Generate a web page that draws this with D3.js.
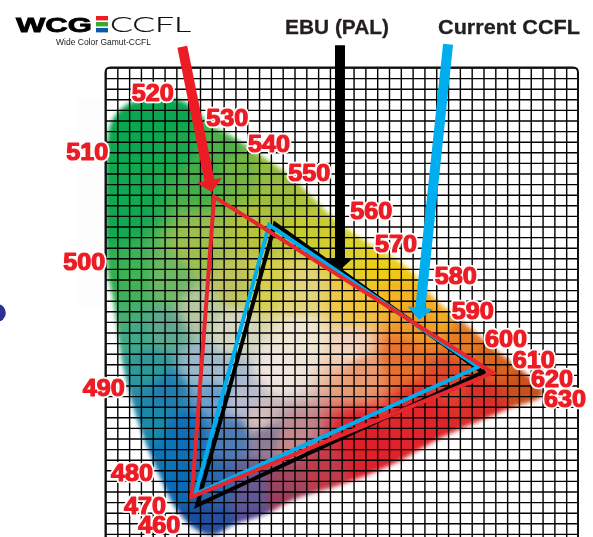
<!DOCTYPE html>
<html>
<head>
<meta charset="utf-8">
<script src="https://cdn.jsdelivr.net/npm/d3@7"></script>
<style>
  html, body { margin: 0; padding: 0; background: #fff; overflow: hidden; }
  #chart { position: relative; width: 593px; height: 537px; }
  canvas, svg { position: absolute; left: 0; top: 0; }
  text { font-family: "Liberation Sans", Arial, sans-serif; }
</style>
</head>
<body>
<div id="chart"></div>
<script>
// Outline of the colour area, chromaticity x / y
var locus = [
  [.001,.725],[.008,.791],[.020,.814],[.038,.831],[.067,.841],[.101,.842],[.130,.837],[.153,.820],
  [.177,.793],[.219,.767],[.270,.729],[.317,.692],[.338,.669],[.390,.612],[.436,.575],[.509,.524],
  [.560,.461],[.610,.416],[.661,.367],[.712,.322],[.741,.284],[.678,.254],[.571,.203],[.487,.152],
  [.402,.114],[.317,.084],[.273,.058],[.216,.037],[.182,.018],[.155,.027],[.121,.065],[.087,.141],
  [.058,.222],[.030,.335],[.013,.461],[.003,.524]
];

// Colour samples inside the area: x, y, colour
var swatches = [
  [.075,.782,"#0aa650"],[.033,.650,"#10a850"],[.118,.754,"#18a94e"],[.168,.697,"#44ae48"],
  [.228,.707,"#74b544"],[.295,.659,"#9dbd3e"],[.041,.499,"#3fb356"],[.028,.424,"#45ae6e"],
  [.109,.499,"#6db865"],[.160,.556,"#9ebf4f"],[.262,.593,"#b7c33a"],[.346,.603,"#c8cc30"],
  [.406,.565,"#dcd22a"],[.473,.527,"#eccf1a"],[.216,.493,"#bfc35c"],[.273,.493,"#d8cf4a"],
  [.329,.480,"#e2d57a"],[.414,.461,"#f0c640"],[.499,.480,"#f5b41f"],[.329,.386,"#efe8d4"],
  [.414,.367,"#f2d5c0"],[.295,.329,"#f3e6df"],[.211,.405,"#d5d8c0"],[.160,.442,"#b8c8a0"],
  [.101,.405,"#5fa88f"],[.532,.424,"#ee9a2a"],[.617,.386,"#e57a25"],[.668,.348,"#d9621f"],
  [.719,.301,"#c9501c"],[.499,.348,"#e8702e"],[.431,.329,"#ea9a70"],[.583,.310,"#e0452a"],
  [.532,.254,"#e0262a"],[.431,.197,"#dd1f2a"],[.634,.273,"#d9302a"],[.363,.141,"#c23a48"],
  [.312,.122,"#a8475f"],[.312,.197,"#c58a8e"],[.262,.235,"#d8c0be"],[.228,.273,"#b8bcd0"],
  [.194,.310,"#a9bdd0"],[.160,.335,"#9ab8cc"],[.189,.292,"#5f9bd0"],[.104,.292,"#1f7db0"],
  [.075,.335,"#2c9a9b"],[.047,.399,"#3fa98a"],[.131,.210,"#0e6fb8"],[.131,.116,"#0b6ab6"],
  [.189,.114,"#2a69b0"],[.245,.114,"#6a5a90"],[.301,.114,"#96475f"],[.189,.039,"#264f9e"],
  [.245,.084,"#5c5a98"],[.273,.208,"#8a7a98"],[.216,.208,"#4c7bb5"],[.075,.235,"#1a8aa8"],
  // along the edges
  [.005,.620,"#12a751"],[.012,.500,"#2fb04f"],[.100,.810,"#0aa650"],[.200,.760,"#4fb04a"],
  [.280,.710,"#93bb40"],[.340,.650,"#aec23a"],[.400,.585,"#d6d02c"],[.500,.510,"#f0c818"],
  [.560,.445,"#f5ae20"],[.650,.360,"#d9661f"],[.720,.295,"#c9501c"],[.450,.155,"#e0202a"],
  [.550,.215,"#e3222a"],[.640,.250,"#d92c28"],[.300,.085,"#a03a5c"],[.250,.055,"#5a4a90"],
  [.150,.040,"#1a4fa0"],[.095,.150,"#0e74b4"]
];

// Gamut triangles
var ebuPal = [[.287,.605],[.639,.325],[.155,.074]];
var currentCcfl = [[.277,.603],[.631,.335],[.152,.095]];
var wcgCcfl = [[.184,.656],[.656,.324],[.146,.090]];

// Wavelength labels
var wavelengths = ["520","530","540","550","510","500","560","570","580","590","600","610","620","630","490","480","470","460"];
var waveX = [.080,.206,.277,.345,-.031,-.036,.450,.492,.593,.622,.678,.725,.756,.778,-.003,.045,.067,.091];
var waveY = [.852,.806,.756,.701,.741,.533,.629,.567,.507,.441,.388,.348,.312,.275,.295,.135,.073,.037];

var xTicks = d3.range(0, 41).map(function(i) { return i * 0.02; });
var yTicks = d3.range(0, 46).map(function(i) { return i * 0.02; });

// Arrows: start, tip
var arrows = [
  { color: "#ed1c24", from: [.130,.939], to: [.180,.665] },
  { color: "#000000", from: [.397,.942], to: [.397,.518] },
  { color: "#00aeef", from: [.580,.944], to: [.531,.424] }
];

var svgWidth = 593, svgHeight = 537;

var x = d3.scaleLinear().domain([0, 0.8]).range([105.5, 578]);
var y = d3.scaleLinear().domain([0, 0.9]).range([544.5, 67.5]);

var chart = d3.select("#chart");

// Colour area goes on a canvas under the svg
var canvas = chart.append("canvas").attr("width", svgWidth).attr("height", svgHeight);
var ctx = canvas.node().getContext("2d");

var pts = swatches.map(function(s) {
  var c = d3.rgb(s[2]);
  return { px: x(s[0]), py: y(s[1]), r: c.r, g: c.g, b: c.b };
});
var img = ctx.createImageData(svgWidth, svgHeight);
for (var j = 0; j < svgHeight; j++) {
  for (var i = 0; i < svgWidth; i++) {
    var sw = 0, sr = 0, sg = 0, sb = 0;
    pts.forEach(function(p) {
      var dx = p.px - i, dy = p.py - j;
      var w = 1 / Math.pow(dx * dx + dy * dy + 80, 2.5);
      sw += w; sr += p.r * w; sg += p.g * w; sb += p.b * w;
    });
    var k = (j * svgWidth + i) * 4;
    img.data[k] = sr / sw; img.data[k + 1] = sg / sw; img.data[k + 2] = sb / sw; img.data[k + 3] = 255;
  }
}
ctx.putImageData(img, 0, 0);

var locusLine = d3.line()
  .x(function(d) { return x(d[0]); })
  .y(function(d) { return y(d[1]); })
  .curve(d3.curveCatmullRomClosed.alpha(0.5));

// Keep only what falls inside the soft-edged outline
ctx.globalCompositeOperation = "destination-in";
ctx.filter = "blur(2px)";
ctx.fillStyle = "#000";
ctx.fill(new Path2D(locusLine(locus)));
ctx.filter = "none";
ctx.globalCompositeOperation = "source-over";

var svg = chart.append("svg").attr("width", svgWidth).attr("height", svgHeight);

// Grid is clipped to the frame so the top corners stay round
var r = 5;
svg.append("clipPath").attr("id", "frame-clip").append("rect")
  .attr("x", x(0)).attr("y", y(0.9))
  .attr("width", x(0.8) - x(0)).attr("height", y(0) - y(0.9) + 10)
  .attr("rx", r);

// Faint ghosting left of the grid
svg.append("rect")
  .attr("x", x(-.05)).attr("y", y(.84))
  .attr("width", x(0) - x(-.05)).attr("height", y(.45) - y(.84))
  .attr("fill", "#fcfdfc");

// Navy blob cut by the page edge
svg.append("circle")
  .attr("cx", x(-.184)).attr("cy", y(.437)).attr("r", 9)
  .attr("fill", "#2e3192");

// Grid
var grid = svg.append("g").attr("clip-path", "url(#frame-clip)");
grid.append("g")
  .attr("transform", "translate(0," + y(0.9) + ")")
  .call(d3.axisBottom(x).tickValues(xTicks).tickSize(y(0) - y(0.9)).tickFormat(""));
grid.append("g")
  .attr("transform", "translate(" + x(0) + ",0)")
  .call(d3.axisRight(y).tickValues(yTicks).tickSize(x(0.8) - x(0)).tickFormat(""));
svg.selectAll(".domain").remove();
svg.selectAll(".tick line").attr("stroke", "#000").attr("stroke-width", 1.4);

// Frame with the rounded top corners
svg.append("path")
  .attr("d", "M" + x(0) + "," + y(0) + "V" + (y(0.9) + r) + "Q" + x(0) + "," + y(0.9) + " " + (x(0) + r) + "," + y(0.9)
    + "H" + (x(0.8) - r) + "Q" + x(0.8) + "," + y(0.9) + " " + x(0.8) + "," + (y(0.9) + r) + "V" + y(0))
  .attr("fill", "none").attr("stroke", "#111").attr("stroke-width", 2);

// Triangles, black first and red on top
var triLine = d3.line()
  .x(function(d) { return x(d[0]); })
  .y(function(d) { return y(d[1]); })
  .curve(d3.curveLinearClosed);

[[ebuPal, "#000000"], [currentCcfl, "#00aeef"], [wcgCcfl, "#e8262e"]].forEach(function(t) {
  svg.append("path")
    .attr("d", triLine(t[0]))
    .attr("fill", "none")
    .attr("stroke", t[1])
    .attr("stroke-width", 4)
    .attr("stroke-linejoin", "miter");
});

// Arrows
var shaft = 10, headLen = 12, headWidth = 26;
arrows.forEach(function(a) {
  var x0 = x(a.from[0]), y0 = y(a.from[1]), x1 = x(a.to[0]), y1 = y(a.to[1]);
  var len = Math.hypot(x1 - x0, y1 - y0);
  var ux = (x1 - x0) / len, uy = (y1 - y0) / len;
  var nx = -uy, ny = ux;
  var bx = x1 - ux * headLen, by = y1 - uy * headLen;
  var poly = [
    [x0 + nx * shaft / 2, y0 + ny * shaft / 2],
    [bx + nx * shaft / 2, by + ny * shaft / 2],
    [bx + nx * headWidth / 2, by + ny * headWidth / 2],
    [x1, y1],
    [bx - nx * headWidth / 2, by - ny * headWidth / 2],
    [bx - nx * shaft / 2, by - ny * shaft / 2],
    [x0 - nx * shaft / 2, y0 - ny * shaft / 2]
  ];
  svg.append("polygon")
    .attr("points", poly.join(" "))
    .attr("fill", a.color);
});

// Wavelength labels, white halo underneath
var halo = svg.append("g");
var labels = svg.append("g");
wavelengths.forEach(function(w, i) {
  [halo, labels].forEach(function(g, n) {
    g.append("text")
      .attr("x", x(waveX[i]))
      .attr("y", y(waveY[i]))
      .attr("dy", "0.36em")
      .attr("text-anchor", "middle")
      .attr("font-size", 23)
      .attr("font-weight", "bold")
      .attr("textLength", 42)
      .attr("lengthAdjust", "spacingAndGlyphs")
      .attr("fill", n ? "#ed1c24" : "#fff")
      .attr("stroke", n ? "#ed1c24" : "#fff")
      .attr("stroke-width", n ? 1.2 : 4.5)
      .attr("stroke-linejoin", "round")
      .text(w);
  });
});

// Titles
svg.append("text").attr("x", 337).attr("y", 34).attr("text-anchor", "middle")
  .attr("font-size", 21).attr("font-weight", "bold").attr("fill", "#231f20")
  .attr("stroke", "#231f20").attr("stroke-width", 0.3)
  .attr("textLength", 104).attr("lengthAdjust", "spacingAndGlyphs").text("EBU (PAL)");
svg.append("text").attr("x", 509).attr("y", 34).attr("text-anchor", "middle")
  .attr("font-size", 21).attr("font-weight", "bold").attr("fill", "#231f20")
  .attr("stroke", "#231f20").attr("stroke-width", 0.3)
  .attr("textLength", 142).attr("lengthAdjust", "spacingAndGlyphs").text("Current CCFL");

// Logo
svg.append("text").attr("x", 16).attr("y", 31.5)
  .attr("font-size", 20).attr("font-weight", "bold").attr("fill", "#000")
  .attr("stroke", "#000").attr("stroke-width", 0.8)
  .attr("textLength", 76).attr("lengthAdjust", "spacingAndGlyphs").text("WCG");
[["#ed1c24", 16], ["#39a935", 22], ["#0a5aa8", 28]].forEach(function(b) {
  svg.append("rect").attr("x", 96).attr("y", b[1]).attr("width", 12).attr("height", 4.4).attr("fill", b[0]);
});
svg.append("text").attr("x", 110).attr("y", 32)
  .attr("font-size", 22).attr("fill", "#111")
  .attr("stroke", "#111").attr("stroke-width", 0.2)
  .style("font-family", "Lato").style("font-weight", 300)
  .attr("textLength", 81).attr("lengthAdjust", "spacingAndGlyphs").text("CCFL");
svg.append("text").attr("x", 56).attr("y", 44.5)
  .attr("font-size", 9).attr("fill", "#222")
  .attr("textLength", 95).attr("lengthAdjust", "spacingAndGlyphs").text("Wide Color Gamut-CCFL");
</script>
</body>
</html>
